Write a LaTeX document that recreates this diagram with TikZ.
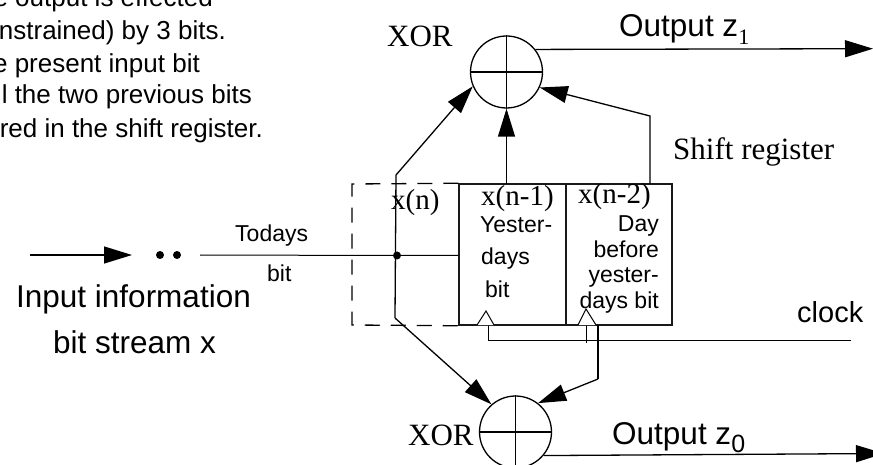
\documentclass[tikz,border=0pt]{standalone}
\usepackage{fontspec}
\setmainfont{Liberation Serif}
\setsansfont{Liberation Sans}
\usetikzlibrary{arrows.meta}
\tikzset{
 x=1pt,y=-1pt,
 wire/.style={line width=1.3pt,draw=black},
 thin wire/.style={line width=1pt,draw=black},
 tip/.style={-{Triangle[length=28pt,width=17pt]}},
 note/.style={inner sep=0pt,anchor=base east,font=\sffamily\fontsize{26}{26}\selectfont},
 big/.style={inner sep=0pt,anchor=base west,font=\sffamily\fontsize{31.5}{32}\selectfont},
 serif/.style={inner sep=0pt,anchor=base west,font=\rmfamily\fontsize{31}{31}\selectfont},
 reglabel/.style={inner sep=0pt,anchor=base west,font=\rmfamily\fontsize{29}{29}\selectfont},
 small/.style={inner sep=0pt,anchor=base west,font=\sffamily\fontsize{23}{23}\selectfont},
 smallr/.style={small,anchor=base east},
 clocklabel/.style={inner sep=0pt,anchor=base west,font=\sffamily\fontsize{29}{29}\selectfont},
 xor/.style={circle,draw,line width=1.3pt,minimum size=72pt,inner sep=0pt},
 regbox/.style={draw,line width=1.5pt,draw=black!90,inner sep=0pt,minimum height=141pt},
}
\begin{document}
\begin{tikzpicture}
\useasboundingbox (0,0) rectangle (873,465);
% boxes
\node[regbox,minimum width=107pt] (reg1) at (512.5,254.5) {};
\node[regbox,minimum width=106pt] (reg2) at (619,254.5) {};
% dashed box
\draw[wire,dash pattern=on 15pt off 11pt] (reg1.north west) -- (352,184) -- (352,325) -- (reg1.south west);
% xors
\node[xor] (xt) at (506.5,72) {};
\draw[wire] (xt.north) -- (xt.south) (xt.west) -- (xt.east);
\node[xor] (xb) at (515.5,432) {};
\draw[wire] (xb.north) -- (xb.south) (xb.west) -- (xb.east);
% input
\coordinate (in0) at (30,255);
\coordinate (in1) at (132,255);
\coordinate (in2) at (200,255);
\coordinate (junc) at (397,255.5);
\draw[wire,tip] (in0) -- (in1);
\fill (160,255) circle (4pt) (177,255) circle (4pt);
\draw[thin wire] (in2) -- (junc) -- (reg1.west |- junc);
\fill (junc) circle (4pt);
% vertical branch
\coordinate (vt) at (396,175);
\coordinate (vb) at (395,318);
\draw[wire] (vt) -- (vb);
\draw[wire,tip] (vt) -- (xt.203.6);
\draw[wire,tip] (vb) -- (xb.131);
% taps
\coordinate (t1) at (506.5,184);
\draw[wire,tip] (t1) -- (xt.south);
\coordinate (t2) at (650,184);
\coordinate (t2b) at (650,116);
\draw[wire,tip] (t2) -- (t2b) -- (xt.-25);
% outputs
\coordinate (o1) at (873,48.7);
\draw[wire,tip] (xt.38) -- (o1);
\coordinate (o0) at (884,453.5);
\draw[wire,tip] (xb.-40) -- (o0);
% clock
\coordinate (clk) at (851,340);
\coordinate (c1) at (488,340);
\coordinate (c0) at (488,325);
\coordinate (c2a) at (586,325);
\coordinate (c2) at (586,343);
\draw[thin wire] (c0) -- (c1) -- (clk);
\draw[thin wire] (c2a) -- (c2);
\coordinate (c3) at (598,325);
\coordinate (c4) at (598,379);
\draw[wire] (c3) -- (c4);
\draw[wire,tip] (c4) -- (xb.52);
\draw[thin wire,fill=white] (477,325) -- (486,311) -- (494,325);
\draw[thin wire,fill=white] (578,325) -- (586,309) -- (596,325);
% texts
\node[serif] (lxt) at (387,47) {XOR};
\node[serif] (lxb) at (408,445) {XOR};
\node[big] (lz1) at (619,37) {Output z\raisebox{-8pt}{\rmfamily\fontsize{22}{22}\selectfont 1}};
\node[big] (lz0) at (612,444) {Output z\raisebox{-8pt}{\fontsize{25}{25}\selectfont 0}};
\node[serif] (lsr) at (673,160) {Shift register};
\node[reglabel] (lxn) at (391,210) {x(n)};
\node[reglabel] (lx1) at (481,206) {x(n-1)};
\node[reglabel] (lx2) at (578,204) {x(n-2)};
\node[small] (y1) at (480,233) {Yester-};
\node[small] (y2) at (481,265) {days};
\node[small] (y3) at (485,298) {bit};
\node[smallr] (d1) at (659,232) {Day};
\node[smallr] (d2) at (659,258) {before};
\node[smallr] (d3) at (659,282) {yester-};
\node[smallr] (d4) at (659,308) {days bit};
\node[small] (t1l) at (235,242) {Todays};
\node[small] (t2l) at (267,281) {bit};
\node[big] (i1) at (16,307) {Input information};
\node[big] (i2) at (53,353) {bit stream x};
\node[clocklabel] (clkl) at (797,322) {clock};
\node[note] (n1) at (213,7) {e output is effected};
\node[note] (n2) at (226,40) {nstrained) by 3 bits.};
\node[note] (n3) at (200,73) {e present input bit};
\node[note] (n4) at (252,104) {l the two previous bits};
\node[note] (n5) at (263,138) {red in the shift register.};
\end{tikzpicture}
\end{document}
